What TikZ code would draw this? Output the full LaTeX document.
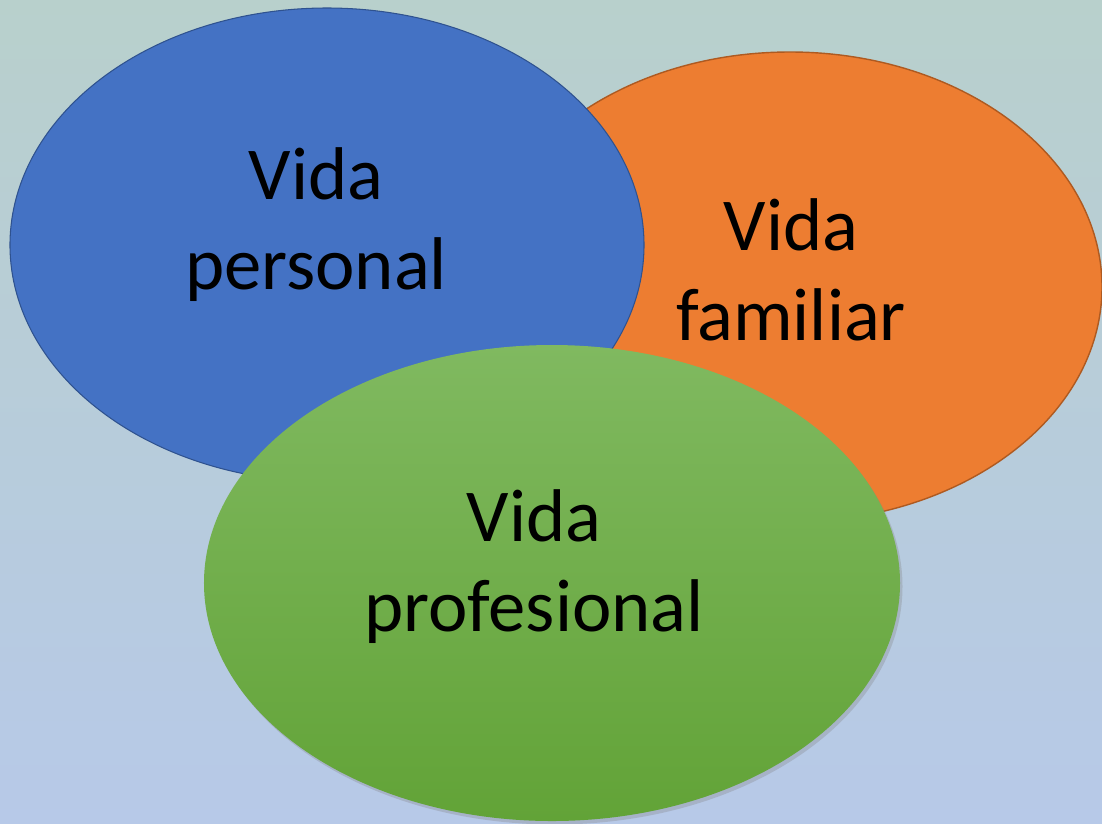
\documentclass[tikz,border=0pt]{standalone}
\usepackage{fontspec}
\setmainfont{Carlito}
\usetikzlibrary{shapes.geometric, shadows}

\definecolor{bgtop}{RGB}{184,208,204}
\definecolor{bgmiddle}{RGB}{174,193,226}
\definecolor{bgbottom}{RGB}{183,201,232}
\definecolor{personalfill}{RGB}{68,114,196}
\definecolor{personalline}{RGB}{47,82,143}
\definecolor{familiarfill}{RGB}{237,125,49}
\definecolor{familiarline}{RGB}{174,90,33}
\definecolor{profesionaltop}{RGB}{128,185,96}
\definecolor{profesionalbottom}{RGB}{98,163,55}

\begin{document}
\begin{tikzpicture}[x = 0.2 mm, y = -0.2 mm,
	bubble/.style = {ellipse, inner sep = 0pt},
	lifetext/.style = {align = center, font = \fontsize{42.5}{51.2}\selectfont}]

	% Background
	
	\useasboundingbox (0, 0) rectangle (1102, 823);
	\clip (0, 0) rectangle (1102, 823);
	\shade [top color = bgtop, middle color = bgmiddle, bottom color = bgbottom] (0, 0) rectangle (1102, 823);

	% Ellipses
	
	\node [bubble, fill = familiarfill, draw = familiarline, line width = 0.8pt,
		minimum width = 124.8mm, minimum height = 94mm] (familiar) at (790, 287) {};
	\node [bubble, fill = personalfill, draw = personalline, line width = 0.6pt,
		minimum width = 126.8mm, minimum height = 94.8mm] (personal) at (327, 245) {};
	\node [bubble, top color = profesionaltop, bottom color = profesionalbottom,
		drop shadow = {shadow xshift = 0.5mm, shadow yshift = -0.7mm, opacity = 0.3},
		minimum width = 139.2mm, minimum height = 95.2mm] (profesional) at (552, 583) {};
	
	% Texts
	
	\node [lifetext] (personaltext) at (316, 225) {Vida\\personal};
	\node [lifetext] (familiartext) at (791, 270) {Vida\\familiar};
	\node [lifetext] (profesionaltext) at (534, 567) {Vida\\profesional};

\end{tikzpicture}
\end{document}
